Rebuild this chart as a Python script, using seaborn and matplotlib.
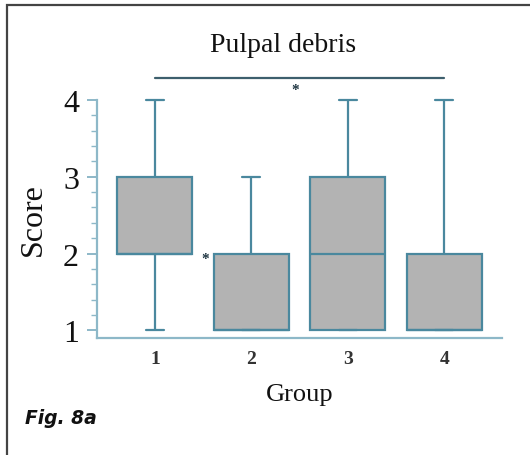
import numpy as np
import pandas as pd
import matplotlib
matplotlib.use("Agg")
import matplotlib.pyplot as plt
from matplotlib.ticker import FixedLocator
from matplotlib.patches import Rectangle
import seaborn as sns

# ---- data (scores per group) ----
groups = ["1", "2", "3", "4"]
scores_g1 = [1, 2, 2, 2, 3, 3, 4]
scores_g2 = [1, 1, 1, 1, 2, 2, 3]
scores_g3 = [1, 1, 1, 2, 3, 3, 4]
scores_g4 = [1, 1, 1, 1, 2, 2, 4]
y_ticks = [1, 2, 3, 4]
y_minor_ticks = [1.2, 1.4, 1.6, 1.8, 2.2, 2.4, 2.6, 2.8, 3.2, 3.4, 3.6, 3.8]
title = "Pulpal debris"
x_label = "Group"
y_label = "Score"
fig_label = "Fig. 8a"

all_scores = [scores_g1, scores_g2, scores_g3, scores_g4]
df = pd.DataFrame({
    "Group": np.repeat(groups, [len(s) for s in all_scores]),
    "Score": np.concatenate(all_scores),
})

sns.set_style("white")
plt.rcParams["font.family"] = ["Liberation Serif", "DejaVu Serif"]

fig = plt.figure(figsize=(5.3, 4.56), dpi=100)
ax = fig.add_axes([97 / 530, 1 - 339 / 456, (502 - 97) / 530, (339 - 74) / 456])

edge = "#4a889e"
spine_c = "#8db8c8"
sns.boxplot(data=df, x="Group", y="Score", order=groups, ax=ax,
            color="#b3b3b3", saturation=1, width=0.78, whis=(0, 100),
            linecolor=edge, linewidth=1.6, capwidths=0.19)

ax.set_xlim(-0.6, 3.6)
ax.set_ylim(0.9, 4.35)

for s in ["top", "right"]:
    ax.spines[s].set_visible(False)
ax.spines["left"].set_bounds(0.9, 4)
ax.spines["left"].set_color(spine_c)
ax.spines["bottom"].set_color(spine_c)
ax.spines["left"].set_linewidth(1.6)
ax.spines["bottom"].set_linewidth(1.6)

ax.yaxis.set_major_locator(FixedLocator(y_ticks))
ax.yaxis.set_minor_locator(FixedLocator(y_minor_ticks))
ax.tick_params(axis="y", which="major", direction="out", length=7, width=1.4,
               color=spine_c, labelsize=23, pad=6, labelcolor="#111111", left=True)
ax.tick_params(axis="y", which="minor", direction="out", length=4, width=1.0,
               color=spine_c, left=True)
ax.tick_params(axis="x", length=0, labelsize=14, pad=9, labelcolor="#333333")
for lab in ax.get_xticklabels():
    lab.set_fontweight("bold")

ax.set_xlabel(x_label, fontsize=19, labelpad=11, color="#111111")
ax.set_ylabel(y_label, fontsize=23, color="#111111")
ax.yaxis.set_label_coords(-0.122, 0.45)

fig.text(283 / 530, 1 - 45 / 456, title, ha="center", va="center",
         fontsize=20, color="#111111")

# significance annotations
ax.plot([0, 3], [4.29, 4.29], color="#3d5f6d", lw=1.6, clip_on=False)
ax.text(1.46, 4.13, "*", ha="center", va="center", fontsize=11,
        fontweight="bold", color="#1d3440", clip_on=False)
ax.text(0.52, 1.93, "*", ha="center", va="center", fontsize=11,
        fontweight="bold", color="#1d3440", clip_on=False)

fig.text(25 / 530, 1 - 419 / 456, fig_label, ha="left", va="center",
         fontsize=13.5, fontweight="bold", fontstyle="italic",
         family=["DejaVu Sans"], color="#111111")

# outer frame (clipped on right and bottom like the reference)
fig.patches.append(Rectangle((7 / 530, -0.1), 1.2, 1 - 6 / 456 + 0.1,
                             transform=fig.transFigure, fill=False,
                             edgecolor="#444444", lw=1.6))

fig.savefig("out.png", dpi=100)
